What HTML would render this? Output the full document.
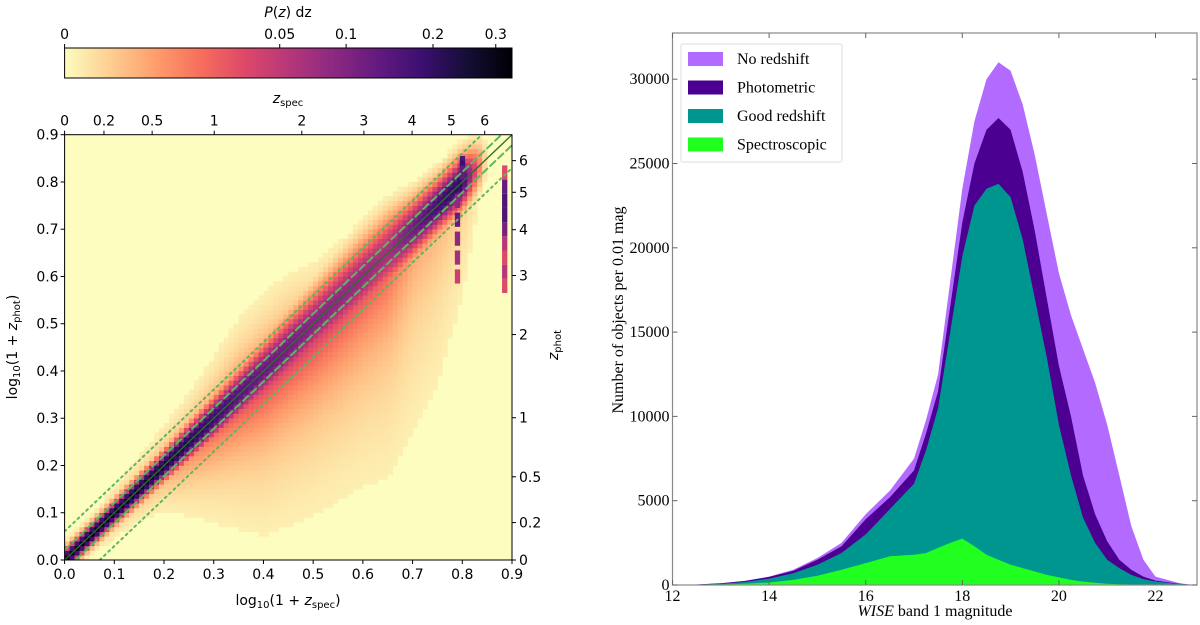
<!DOCTYPE html>
<html><head><meta charset="utf-8"><style>
html,body{margin:0;padding:0;background:#fff;width:1200px;height:625px;overflow:hidden}
svg{display:block;position:absolute;left:0;top:0}
.s{font-family:"DejaVu Sans","Liberation Sans",sans-serif;font-size:14px;fill:#000}
.r{font-family:"Liberation Serif",serif;font-size:16px;fill:#000}
</style></head><body>
<svg id="svg" width="1200" height="625" xmlns="http://www.w3.org/2000/svg">
<defs><linearGradient id="cb" x1="0" x2="1" y1="0" y2="0">
<stop offset="0" stop-color="#fcfdbf"/><stop offset="0.1" stop-color="#fecf92"/><stop offset="0.2" stop-color="#fe9f6d"/><stop offset="0.3" stop-color="#f7705c"/><stop offset="0.4" stop-color="#de4968"/><stop offset="0.5" stop-color="#b73779"/><stop offset="0.6" stop-color="#8c2981"/><stop offset="0.7" stop-color="#641a80"/><stop offset="0.8" stop-color="#3b0f70"/><stop offset="0.9" stop-color="#140e36"/><stop offset="1" stop-color="#000004"/></linearGradient>
<clipPath id="hc"><rect x="64.6" y="134.7" width="447.4" height="425.3"/></clipPath></defs>
<g id="left"></g>
<g id="right"></g>
</svg>
<script>
// ---------- Heatmap data ----------
const knotX=[0,0.05,0.1,0.15,0.2,0.25,0.3,0.35,0.4,0.45,0.5,0.55,0.6,0.65,0.7,0.75,0.8,0.85,0.9];
const coreT=[0.95,1.0,0.97,0.95,0.92,0.88,0.82,0.75,0.7,0.67,0.62,0.6,0.58,0.55,0.68,0.8,0.85,0.0,0];
const coreW=[0.015,0.015,0.016,0.018,0.02,0.024,0.028,0.033,0.038,0.042,0.045,0.048,0.05,0.05,0.04,0.035,0.035,0.03,0.03];
const lowT=[0.25,0.25,0.28,0.3,0.35,0.42,0.48,0.52,0.55,0.55,0.55,0.52,0.48,0.42,0.25,0.2,0.15,0,0];
const lowS=[0.02,0.02,0.025,0.03,0.04,0.06,0.08,0.1,0.12,0.13,0.14,0.15,0.16,0.18,0.2,0.2,0.15,0.1,0.1];
const upT=[0.25,0.25,0.28,0.3,0.35,0.4,0.42,0.45,0.45,0.42,0.4,0.36,0.32,0.3,0.25,0.25,0.25,0,0];
const upS=[0.02,0.02,0.025,0.03,0.035,0.04,0.05,0.06,0.06,0.06,0.05,0.05,0.04,0.04,0.04,0.04,0.04,0.04,0.04];
const spikeX=[0.885,0.885,0.885,0.885,0.885,0.885,0.885,0.885,0.885,0.8,0.8,0.8,0.79,0.79,0.79,0.79,0.79];
const spikeY=[0.58,0.61,0.64,0.67,0.7,0.73,0.76,0.79,0.82,0.84,0.83,0.82,0.76,0.72,0.68,0.64,0.6];
const spikeT=[0.4,0.5,0.4,0.5,0.65,0.75,0.75,0.7,0.4,0.75,0.8,0.7,0.6,0.7,0.6,0.55,0.45];
const zTicks=[0,0.2,0.5,1,2,3,4,5,6];
const linTicks=[0,0.1,0.2,0.3,0.4,0.5,0.6,0.7,0.8,0.9];
const cbTicks=[0,0.05,0.1,0.2,0.3];
// ---------- Histogram data ----------
const mags=[12,12.5,13,13.5,14,14.5,15,15.5,16,16.5,17,17.25,17.5,17.75,18,18.25,18.5,18.75,19,19.25,19.5,19.75,20,20.25,20.5,20.75,21,21.25,21.5,21.75,22,22.5,22.8];
const noRedshift=[0,30,100,250,500,900,1600,2500,4200,5600,7500,9800,12500,18000,23500,27500,30000,31000,30500,28500,25500,22000,18500,16000,14000,12000,9500,6500,3500,1500,500,100,0];
const photometric=[0,30,100,240,480,850,1500,2300,3900,5200,6800,9000,11500,16500,21500,25000,27000,27700,27000,24500,21000,17000,13000,10000,6500,4200,2600,1500,900,500,260,80,0];
const goodRedshift=[0,20,70,180,380,700,1200,1900,3000,4500,6000,8000,10500,15000,19500,22500,23500,23800,23000,20500,17000,13500,9500,6500,4000,2500,1500,1000,600,350,200,60,0];
const spectroscopic=[0,10,30,80,150,300,550,900,1300,1700,1800,1900,2200,2500,2750,2300,1800,1500,1200,1000,800,600,450,300,200,130,80,50,30,20,10,5,0];
const yTicksR=[0,5000,10000,15000,20000,25000,30000];
const xTicksR=[12,14,16,18,20,22];

const NS='http://www.w3.org/2000/svg';
function mk(p,tag,a,txt){const e=document.createElementNS(NS,tag);for(const k in a)e.setAttribute(k,a[k]);if(txt!==undefined)e.textContent=txt;p.appendChild(e);return e;}
function interp(arr,x){if(x<=0)return arr[0];const i=Math.min(Math.floor(x/0.05),17);const f=(x-knotX[i])/0.05;return arr[i]*(1-f)+arr[i+1]*f;}
const mag=[[0,[252,253,191]],[0.1,[254,207,146]],[0.2,[254,159,109]],[0.3,[247,112,92]],[0.4,[222,73,104]],[0.5,[183,55,121]],[0.6,[140,41,129]],[0.7,[100,26,128]],[0.8,[59,15,112]],[0.9,[20,14,54]],[1,[0,0,4]]];
function cmap(t){t=Math.max(0,Math.min(1,t));for(let i=0;i<10;i++){if(t<=mag[i+1][0]){const f=(t-mag[i][0])/0.1;const c=mag[i][1].map((v,j)=>Math.round(v+(mag[i+1][1][j]-v)*f));return `rgb(${c})`;}}return 'rgb(0,0,4)';}

// ---------- Left panel ----------
const L=document.getElementById('left');
const X0=64.6,X1=512,Y0=560,Y1=134.7;
const hx=v=>X0+v/0.9*(X1-X0), hy=v=>Y0-v/0.9*(Y0-Y1);
const bg=mk(L,'rect',{x:X0,y:Y1,width:X1-X0,height:Y0-Y1,fill:'#fcfdbf'});


const cells=mk(L,'g',{'clip-path':'url(#hc)'});


const cw=0.01;
for(let i=0;i<90;i++){const x=(i+0.5)*cw;
 const ct=interp(coreT,x),w=interp(coreW,x),lt=interp(lowT,x),ls=interp(lowS,x),ut=interp(upT,x),us=interp(upS,x);
 for(let j=0;j<90;j++){const y=(j+0.5)*cw;const d=y-x;
  let t=ct*Math.exp(-d*d/(2*w*w));
  if(d<0)t=Math.max(t,lt*Math.exp(d/ls));else t=Math.max(t,ut*Math.exp(-d/us));
  if(t<0.03)continue;
  const r=mk(cells,'rect',{x:hx(i*cw),y:hy((j+1)*cw),width:5.3,height:5.0,fill:cmap(t)});
  
  
 }}
for(let k=0;k<spikeX.length;k++){
 const r=mk(cells,'rect',{x:hx(spikeX[k]-0.005),y:hy(spikeY[k]+0.015),width:5.3,height:hy(0)-hy(0.03),fill:cmap(spikeT[k])});
 
 
}
const lines=[[0,'#2f6e2f','',1.3],[Math.log10(1.05),'#5cb85c','7,4',2],[Math.log10(0.95),'#5cb85c','7,4',2],[Math.log10(1.15),'#5cb85c','2,4',2],[Math.log10(0.85),'#5cb85c','2,4',2]];
const lg=mk(L,'g',{'clip-path':'url(#hc)'});


lines.forEach(l=>{const xa=Math.max(0,-l[0]),xb=Math.min(0.9,0.9-l[0]);
 const e=mk(lg,'line',{x1:hx(xa),y1:hy(xa+l[0]),x2:hx(xb),y2:hy(xb+l[0]),stroke:l[1],'stroke-width':l[3],'stroke-dasharray':l[2],'stroke-linecap':'round'});
 
 });
mk(L,'rect',{x:X0,y:Y1,width:X1-X0,height:Y0-Y1,fill:'none',stroke:'#000','stroke-width':1});
linTicks.forEach(v=>{
 mk(L,'line',{x1:hx(v),x2:hx(v),y1:Y0,y2:Y0+4,stroke:'#000'});
 const t=mk(L,'text',{x:hx(v),y:Y0+19,'text-anchor':'middle',class:'s'},v.toFixed(1));
 
 mk(L,'line',{x1:X0-4,x2:X0,y1:hy(v),y2:hy(v),stroke:'#000'});
 const u=mk(L,'text',{x:X0-6,y:hy(v)+5,'text-anchor':'end',class:'s'},v.toFixed(1));
 
});
zTicks.forEach(z=>{const v=Math.log10(1+z);
 mk(L,'line',{x1:hx(v),x2:hx(v),y1:Y1-4,y2:Y1,stroke:'#000'});
 const t=mk(L,'text',{x:hx(v),y:Y1-9,'text-anchor':'middle',class:'s'},String(z));
 
 mk(L,'line',{x1:X1,x2:X1+4,y1:hy(v),y2:hy(v),stroke:'#000'});
 const u=mk(L,'text',{x:X1+7,y:hy(v)+5,class:'s'},String(z));
 
});
let e;
e=mk(L,'text',{x:288,y:605,'text-anchor':'middle',class:'s'});e.innerHTML='log<tspan font-size="10" dy="3">10</tspan><tspan dy="-3">(1 + </tspan><tspan font-style="italic">z</tspan><tspan font-size="10" dy="3">spec</tspan><tspan dy="-3">)</tspan>';

e=mk(L,'text',{transform:'translate(17,347) rotate(-90)','text-anchor':'middle',class:'s'});e.innerHTML='log<tspan font-size="10" dy="3">10</tspan><tspan dy="-3">(1 + </tspan><tspan font-style="italic">z</tspan><tspan font-size="10" dy="3">phot</tspan><tspan dy="-3">)</tspan>';

e=mk(L,'text',{x:288,y:103,'text-anchor':'middle',class:'s'});e.innerHTML='<tspan font-style="italic">z</tspan><tspan font-size="10" dy="3">spec</tspan>';

e=mk(L,'text',{transform:'translate(558,345) rotate(-90)','text-anchor':'middle',class:'s'});e.innerHTML='<tspan font-style="italic">z</tspan><tspan font-size="10" dy="3">phot</tspan>';

e=mk(L,'rect',{x:X0,y:48,width:X1-X0,height:30,fill:'url(#cb)',stroke:'#000','stroke-width':1});

cbTicks.forEach(v=>{const xx=X0+Math.pow(v/0.33,0.388)*(X1-X0);
 mk(L,'line',{x1:xx,x2:xx,y1:44,y2:48,stroke:'#000'});
 const t=mk(L,'text',{x:xx,y:39,'text-anchor':'middle',class:'s'},String(v));
 });
e=mk(L,'text',{x:288,y:17,'text-anchor':'middle',class:'s'});e.innerHTML='<tspan font-style="italic">P</tspan>(<tspan font-style="italic">z</tspan>) dz';


// ---------- Right panel ----------
const R=document.getElementById('right');
const RX0=672.5,RX1=1197,RY0=585,RY1=33;
const rx=m=>RX0+(m-12)*48.3, ry=v=>RY0-v*(84.3/5000);
function area(arr,col,name){let d=`M${rx(mags[0])},${ry(0)}`;
 for(let i=0;i<mags.length;i++)d+=`L${rx(mags[i]).toFixed(1)},${ry(arr[i]).toFixed(1)}`;
 d+=`L${rx(mags[mags.length-1])},${ry(0)}Z`;
 const p=mk(R,'path',{d:d,fill:col});
 
 }
area(noRedshift,'#b36bff','area-no-redshift');
area(photometric,'#4b0092','area-photometric');
area(goodRedshift,'#009690','area-good-redshift');
area(spectroscopic,'#21ff21','area-spectroscopic');
mk(R,'rect',{x:RX0,y:RY1,width:RX1-RX0,height:RY0-RY1,fill:'none',stroke:'#888','stroke-width':1.2});
yTicksR.forEach(v=>{mk(R,'line',{x1:RX0,x2:RX0+5,y1:ry(v),y2:ry(v),stroke:'#666'});mk(R,'line',{x1:RX1-5,x2:RX1,y1:ry(v),y2:ry(v),stroke:'#666'});
 const t=mk(R,'text',{x:RX0-3,y:ry(v)+5,'text-anchor':'end',class:'r'},String(v));
 });
xTicksR.forEach(v=>{mk(R,'line',{x1:rx(v),x2:rx(v),y1:RY0-5,y2:RY0,stroke:'#666'});mk(R,'line',{x1:rx(v),x2:rx(v),y1:RY1,y2:RY1+5,stroke:'#666'});
 const t=mk(R,'text',{x:rx(v),y:RY0+16,'text-anchor':'middle',class:'r'},String(v));
 });
e=mk(R,'text',{x:935,y:616,'text-anchor':'middle',class:'r'});e.innerHTML='<tspan font-style="italic">WISE</tspan> band 1 magnitude';

e=mk(R,'text',{transform:'translate(623,310) rotate(-90)','text-anchor':'middle',class:'r'},'Number of objects per 0.01 mag');

const lgR=mk(R,'g',{});

mk(lgR,'rect',{x:681,y:44,width:161,height:118,fill:'#fff',stroke:'#ddd',rx:2});
[['No redshift','#b36bff'],['Photometric','#4b0092'],['Good redshift','#009690'],['Spectroscopic','#21ff21']].forEach((s,i)=>{
 const g=mk(lgR,'g',{});
 
 mk(g,'rect',{x:688,y:52+i*28.5,width:35,height:14,fill:s[1]});
 mk(g,'text',{x:737,y:64+i*28.5,class:'r'},s[0]);});
</script>
</body></html>
